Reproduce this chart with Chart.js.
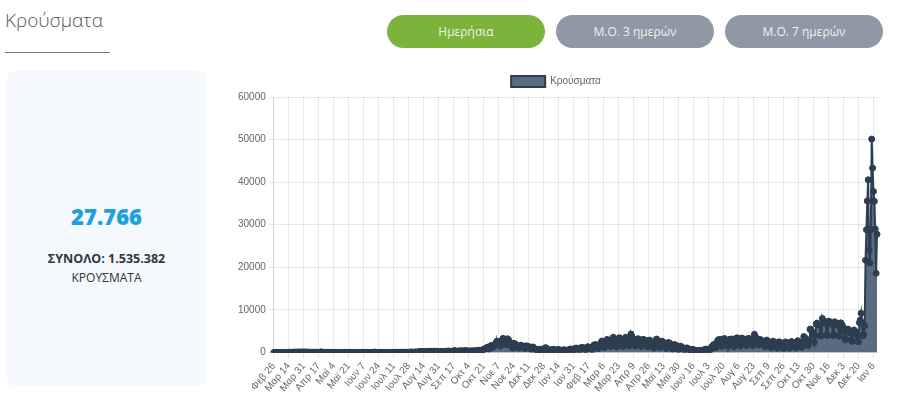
<!DOCTYPE html>
<html>
<head>
<meta charset="utf-8">
<title>Κρούσματα</title>
<script src="https://cdn.jsdelivr.net/npm/chart.js@4.4.1/dist/chart.umd.min.js"></script>
<style>
  body { margin: 0; background: #fff; font-family: 'Open Sans', sans-serif; width: 900px; height: 411px; position: relative; overflow: hidden; }
  .title { position: absolute; left: 5px; top: 7px; font-size: 19px; font-weight: 300; color: #555; }
  .title-line { position: absolute; left: 5px; top: 52px; width: 105px; height: 1px; background: #777; }
  .btn { position: absolute; top: 15px; width: 158px; height: 33px; border-radius: 17px; color: #eef2ea; font-size: 12px; line-height: 33px; text-align: center; }
  .btn.active { background: #7cb33a; }
  .btn.off { background: #8e99a5; }
  .card { position: absolute; left: 7px; top: 71px; width: 199px; height: 315px; background: #f5f8fc; border-radius: 8px; text-align: center; }
  .card .big { position: absolute; left: 0; right: 0; top: 130px; font-size: 22px; font-weight: 800; color: #1ea0dc; }
  .card .total { position: absolute; left: 0; right: 0; top: 179px; font-size: 12.5px; font-weight: 700; color: #2e3742; }
  .card .unit { position: absolute; left: 0; right: 0; top: 198px; font-size: 12px; color: #333; }
  #chartBox { position: absolute; left: 235px; top: 64px; width: 650px; height: 332px; }
</style>
</head>
<body>
<div class="title">Κρούσματα</div>
<div class="title-line"></div>
<div class="btn active" style="left:387px">Ημερήσια</div>
<div class="btn off" style="left:556px">Μ.Ο. 3 ημερών</div>
<div class="btn off" style="left:725px">Μ.Ο. 7 ημερών</div>

<div class="card">
  <div class="big">27.766</div>
  <div class="total">ΣΥΝΟΛΟ: 1.535.382</div>
  <div class="unit">ΚΡΟΥΣΜΑΤΑ</div>
</div>

<div id="chartBox"><canvas id="casesChart"></canvas></div>

<script>
// daily cases, Feb 26 2020 .. Dec 31 2020
const cases2020 = [
  1, 2, 0, 1,
  3, 0, 0, 3, 2, 14, 13, 2, 11, 11, 9, 19, 31, 38, 22, 36, 2, 47, 53, 54, 74, 77, 70, 43, 92, 74, 71, 74, 94, 61, 100,
  108, 58, 49, 87, 75, 45, 41, 40, 51, 33, 18, 43, 48, 64, 31, 15, 22, 31, 26, 155, 16, 23, 28, 8, 11, 25, 16, 20, 11, 21,
  14, 4, 10, 6, 12, 6, 10, 4, 5, 4, 11, 2, 4, 5, 9, 12, 13, 15, 18, 3, 12, 13, 14, 6, 2, 4, 15, 10, 20, 4, 7,
  12, 15, 0, 15, 5, 3, 20, 4, 2, 20, 6, 6, 6, 4, 7, 9, 24, 9, 18, 97, 9, 3, 21, 14, 6, 3, 10, 9, 7, 3,
  6, 10, 6, 17, 21, 13, 20, 22, 14, 19, 32, 25, 24, 25, 20, 22, 41, 28, 21, 27, 19, 31, 26, 30, 29, 57, 31, 43, 45, 75, 110,
  70, 43, 23, 110, 121, 78, 80, 124, 151, 262, 203, 169, 156, 204, 230, 217, 111, 269, 181, 217, 267, 284, 235, 165, 293, 284, 236, 228, 294, 155, 101,
  168, 201, 238, 249, 192, 119, 162, 219, 279, 222, 372, 234, 183, 209, 169, 286, 338, 453, 287, 282, 130, 317, 338, 377, 311, 386, 146, 250, 416, 302,
  460, 369, 290, 216, 373, 313, 356, 320, 355, 402, 310, 368, 338, 466, 508, 458, 460, 333, 581, 504, 682, 865, 882, 935, 1211, 1259, 839, 1259, 1547, 1690, 1152,
  1407, 1678, 1752, 2317, 2646, 1913, 2166, 2056, 1498, 2752, 2794, 3316, 2835, 2498, 2224, 1794, 3209, 3038, 2581, 2311, 2131, 1498, 1044, 2151, 2041, 1990, 1653, 1500, 1231, 1091,
  1315, 1698, 1640, 1547, 1395, 1246, 944, 1535, 1524, 1392, 1333, 1290, 1186, 695, 1193, 1294, 887, 886, 738, 520, 349, 640, 768, 753, 628, 451, 262, 263, 964, 1105, 1061
];

const cases2021 = [
  262, 338, 291, 348, 640, 552, 714, 721, 655, 540, 262, 563, 671, 644, 594, 517, 315, 483, 583, 615, 517, 550, 410, 318, 454, 700, 761, 818, 680, 596, 405,
  670, 973, 1030, 960, 966, 664, 412, 1002, 1206, 1093, 1073, 1031, 672, 538, 1124, 1355, 1224, 1193, 1097, 833, 561, 1271, 1768, 1764, 1813, 1759, 1250, 921,
  1542, 1847, 2266, 2702, 2326, 1654, 1186, 1942, 2305, 3071, 2702, 2567, 1843, 1397, 2232, 3215, 3586, 2851, 2592, 2184, 1326, 2237, 3302, 3465, 3068, 2838, 2136, 1424, 2430, 3045, 3586,
  3164, 3033, 2387, 1526, 2143, 4340, 3803, 3309, 2855, 2399, 1497, 2005, 3089, 3239, 3044, 2661, 2121, 1398, 2132, 3094, 2931, 2804, 2542, 2042, 1309, 2176, 2909, 2616, 2365, 1964,
  1394, 1059, 2234, 2691, 3152, 2808, 2483, 1874, 1159, 1798, 2644, 2532, 2261, 2152, 1519, 944, 1676, 2309, 2305, 2143, 1847, 1319, 756, 1247, 1811, 1816, 1644, 1542, 1040, 651, 1152,
  1463, 1397, 1168, 1065, 687, 432, 813, 1079, 963, 854, 796, 547, 301, 549, 713, 662, 513, 490, 390, 167, 325, 490, 499, 442, 504, 435, 201, 414, 752, 784,
  742, 712, 541, 331, 669, 1177, 1378, 1627, 1897, 1550, 1130, 1592, 2613, 2981, 2800, 3109, 2463, 1442, 2232, 3082, 3287, 2983, 2855, 2303, 1497, 2339, 3087, 2901, 3164, 2711, 2086,
  1331, 2356, 3250, 3428, 3321, 2982, 2427, 1508, 2380, 3381, 3148, 3019, 2872, 2451, 1582, 2368, 3293, 3173, 3216, 2880, 2404, 1575, 2556, 4254, 3686, 3349, 3213, 2770, 1759, 2717, 3025,
  2780, 2635, 2463, 2052, 1339, 1968, 2906, 2670, 2563, 2418, 2050, 1138, 1818, 2653, 2537, 2400, 2203, 1749, 1019, 1735, 2505, 2385, 2201, 2091, 1697, 942, 1707, 2457, 2419, 2210,
  2185, 1980, 1011, 1762, 2566, 2408, 2302, 2127, 1909, 1077, 1784, 2758, 2539, 2513, 2363, 2042, 1201, 2063, 3739, 3435, 3320, 3051, 2753, 1629, 2824, 5449, 5500, 4886, 4559, 4016, 2373,
  3973, 6700, 6909, 6686, 6608, 6365, 3885, 3883, 8000, 7317, 7335, 6960, 6812, 4104, 4014, 7347, 7276, 7073, 6900, 6600, 4000, 4100, 7200, 7000, 6900, 6700, 6345, 3800, 4020, 6959,
  6554, 6265, 5400, 5100, 3000, 3100, 5300, 5500, 5200, 4900, 4600, 2800, 2600, 5100, 5300, 5000, 4800, 4300, 2700, 2500, 7000, 7600, 9200, 7000, 3900, 4200, 6300, 21657, 28828, 35580, 40560
];

const cases2022 = [24000, 21000, 28900, 50126, 43300, 37800, 35500, 29000, 18600, 27766];

const monthNames = ['Ιαν', 'Φεβ', 'Μαρ', 'Απρ', 'Μαϊ', 'Ιουν', 'Ιουλ', 'Αυγ', 'Σεπ', 'Οκτ', 'Νοε', 'Δεκ'];
const yTicks = [0, 10000, 20000, 30000, 40000, 50000, 60000];
const seriesName = 'Κρούσματα';

const cases = cases2020.concat(cases2021, cases2022);

// one label per day starting Feb 26 2020
const labels = [];
for (let i = 0; i < cases.length; i++) {
  const d = new Date(2020, 1, 26 + i);
  labels.push(monthNames[d.getMonth()] + ' ' + d.getDate());
}

const labelStep = 17;
const darkBlue = '#2c3e50';
const axisFont = { family: 'Liberation Sans, Arial, sans-serif', size: 10 };

const ctx = document.getElementById('casesChart').getContext('2d');
new Chart(ctx, {
  type: 'line',
  data: {
    labels: labels,
    datasets: [{
      label: seriesName,
      data: cases,
      fill: 'origin',
      backgroundColor: '#5a6b7f',
      borderColor: darkBlue,
      borderWidth: 2,
      pointRadius: 3,
      pointBorderWidth: 1,
      pointBackgroundColor: darkBlue,
      pointBorderColor: darkBlue,
      tension: 0
    }]
  },
  options: {
    responsive: true,
    maintainAspectRatio: false,
    animation: false,
    layout: { padding: { top: 4, right: 8 } },
    plugins: {
      legend: {
        display: true,
        labels: {
          boxWidth: 34,
          boxHeight: 11,
          padding: 8,
          color: '#666',
          font: axisFont
        }
      },
      tooltip: { enabled: false }
    },
    scales: {
      x: {
        grid: { color: 'rgba(0,0,0,0.09)', tickLength: 6 },
        ticks: {
          autoSkip: false,
          minRotation: 50,
          maxRotation: 50,
          padding: 2,
          color: '#666',
          font: axisFont,
          callback: function (value, index) {
            return index % labelStep === 0 ? this.getLabelForValue(value) : null;
          }
        }
      },
      y: {
        min: yTicks[0],
        max: yTicks[yTicks.length - 1],
        grid: { color: 'rgba(0,0,0,0.09)', tickLength: 5 },
        afterBuildTicks: function (axis) {
          axis.ticks = yTicks.map(v => ({ value: v }));
        },
        ticks: {
          padding: 3,
          color: '#666',
          font: axisFont,
          callback: function (value) {
            return String(value);
          }
        }
      }
    }
  }
});
</script>
</body>
</html>
